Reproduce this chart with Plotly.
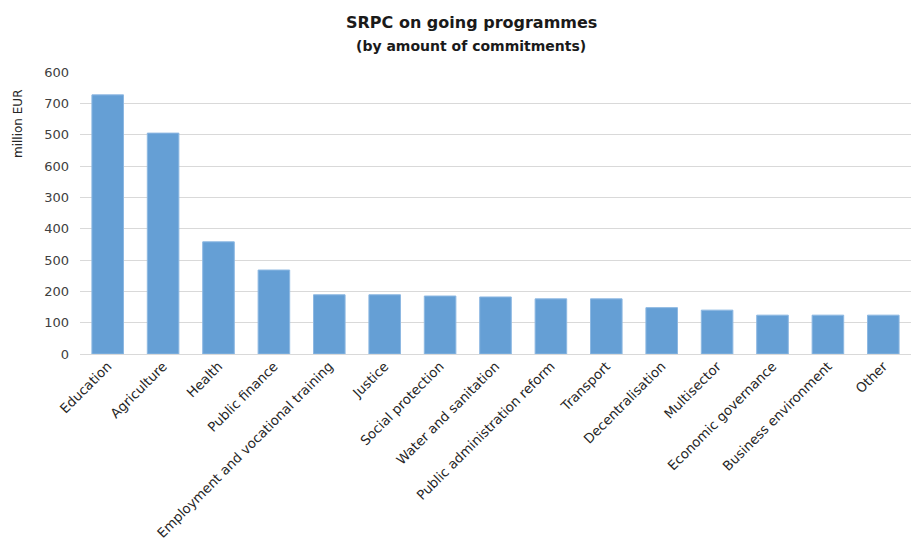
import plotly.graph_objects as go

# Sectors and commitment amounts (million EUR)
sectors = [
    "Education", "Agriculture", "Health", "Public finance",
    "Employment and vocational training", "Justice", "Social protection",
    "Water and sanitation", "Public administration reform", "Transport",
    "Decentralisation", "Multisector", "Economic governance",
    "Business environment", "Other",
]
commitments = [827, 705, 358, 268, 189, 189, 185, 182, 176, 176, 148, 140, 124, 124, 124]

# Y-axis ticks as printed on the axis
tick_vals = [0, 100, 200, 300, 400, 500, 600, 700, 800, 900]
tick_text = ["0", "100", "200", "500", "400", "300", "600", "500", "700", "600"]

font_family = "DejaVu Sans, Verdana, sans-serif"
W, H = 922, 546

fig = go.Figure(
    go.Bar(
        x=sectors,
        y=commitments,
        marker=dict(color="#659FD5", line=dict(color="#8DB8E2", width=1)),
    )
)

fig.update_layout(
    width=W,
    height=H,
    margin=dict(l=80, r=11, t=72, b=192),
    paper_bgcolor="white",
    plot_bgcolor="white",
    bargap=0.43,
    showlegend=False,
    font=dict(family=font_family, size=13, color="#404040"),
    xaxis=dict(
        tickangle=-45,
        automargin=False,
        showgrid=False,
        showline=False,
        ticks="",
        ticklabelstandoff=1,
        tickfont=dict(size=13.3, color="#262626"),
    ),
    yaxis=dict(
        range=[0, 900],
        automargin=False,
        tickvals=tick_vals,
        ticktext=tick_text,
        showgrid=True,
        gridcolor="#D9D9D9",
        gridwidth=1,
        zeroline=True,
        zerolinecolor="#D9D9D9",
        zerolinewidth=1,
        ticks="",
        ticklabelstandoff=10,
        tickfont=dict(size=13, color="#404040"),
    ),
)

# Title, subtitle and axis caption placed in pixel terms on the page
fig.add_annotation(
    text="<b>SRPC on going programmes</b>",
    xref="paper", yref="paper",
    x=(471 - 80) / (W - 80 - 11), y=1 + (72 - 22) / (H - 72 - 192),
    xanchor="center", yanchor="middle", showarrow=False,
    font=dict(family=font_family, size=16, color="#1a1a1a"),
)
fig.add_annotation(
    text="<b>(by amount of commitments)</b>",
    xref="paper", yref="paper",
    x=(471 - 80) / (W - 80 - 11), y=1 + (72 - 46) / (H - 72 - 192),
    xanchor="center", yanchor="middle", showarrow=False,
    font=dict(family=font_family, size=14, color="#1a1a1a"),
)
fig.add_annotation(
    text="million EUR",
    xref="paper", yref="paper",
    x=-(80 - 18) / (W - 80 - 11), y=1 - (124 - 72) / (H - 72 - 192),
    xanchor="center", yanchor="middle", showarrow=False, textangle=-90,
    font=dict(family=font_family, size=12, color="#262626"),
)

fig.write_html("out.html")
